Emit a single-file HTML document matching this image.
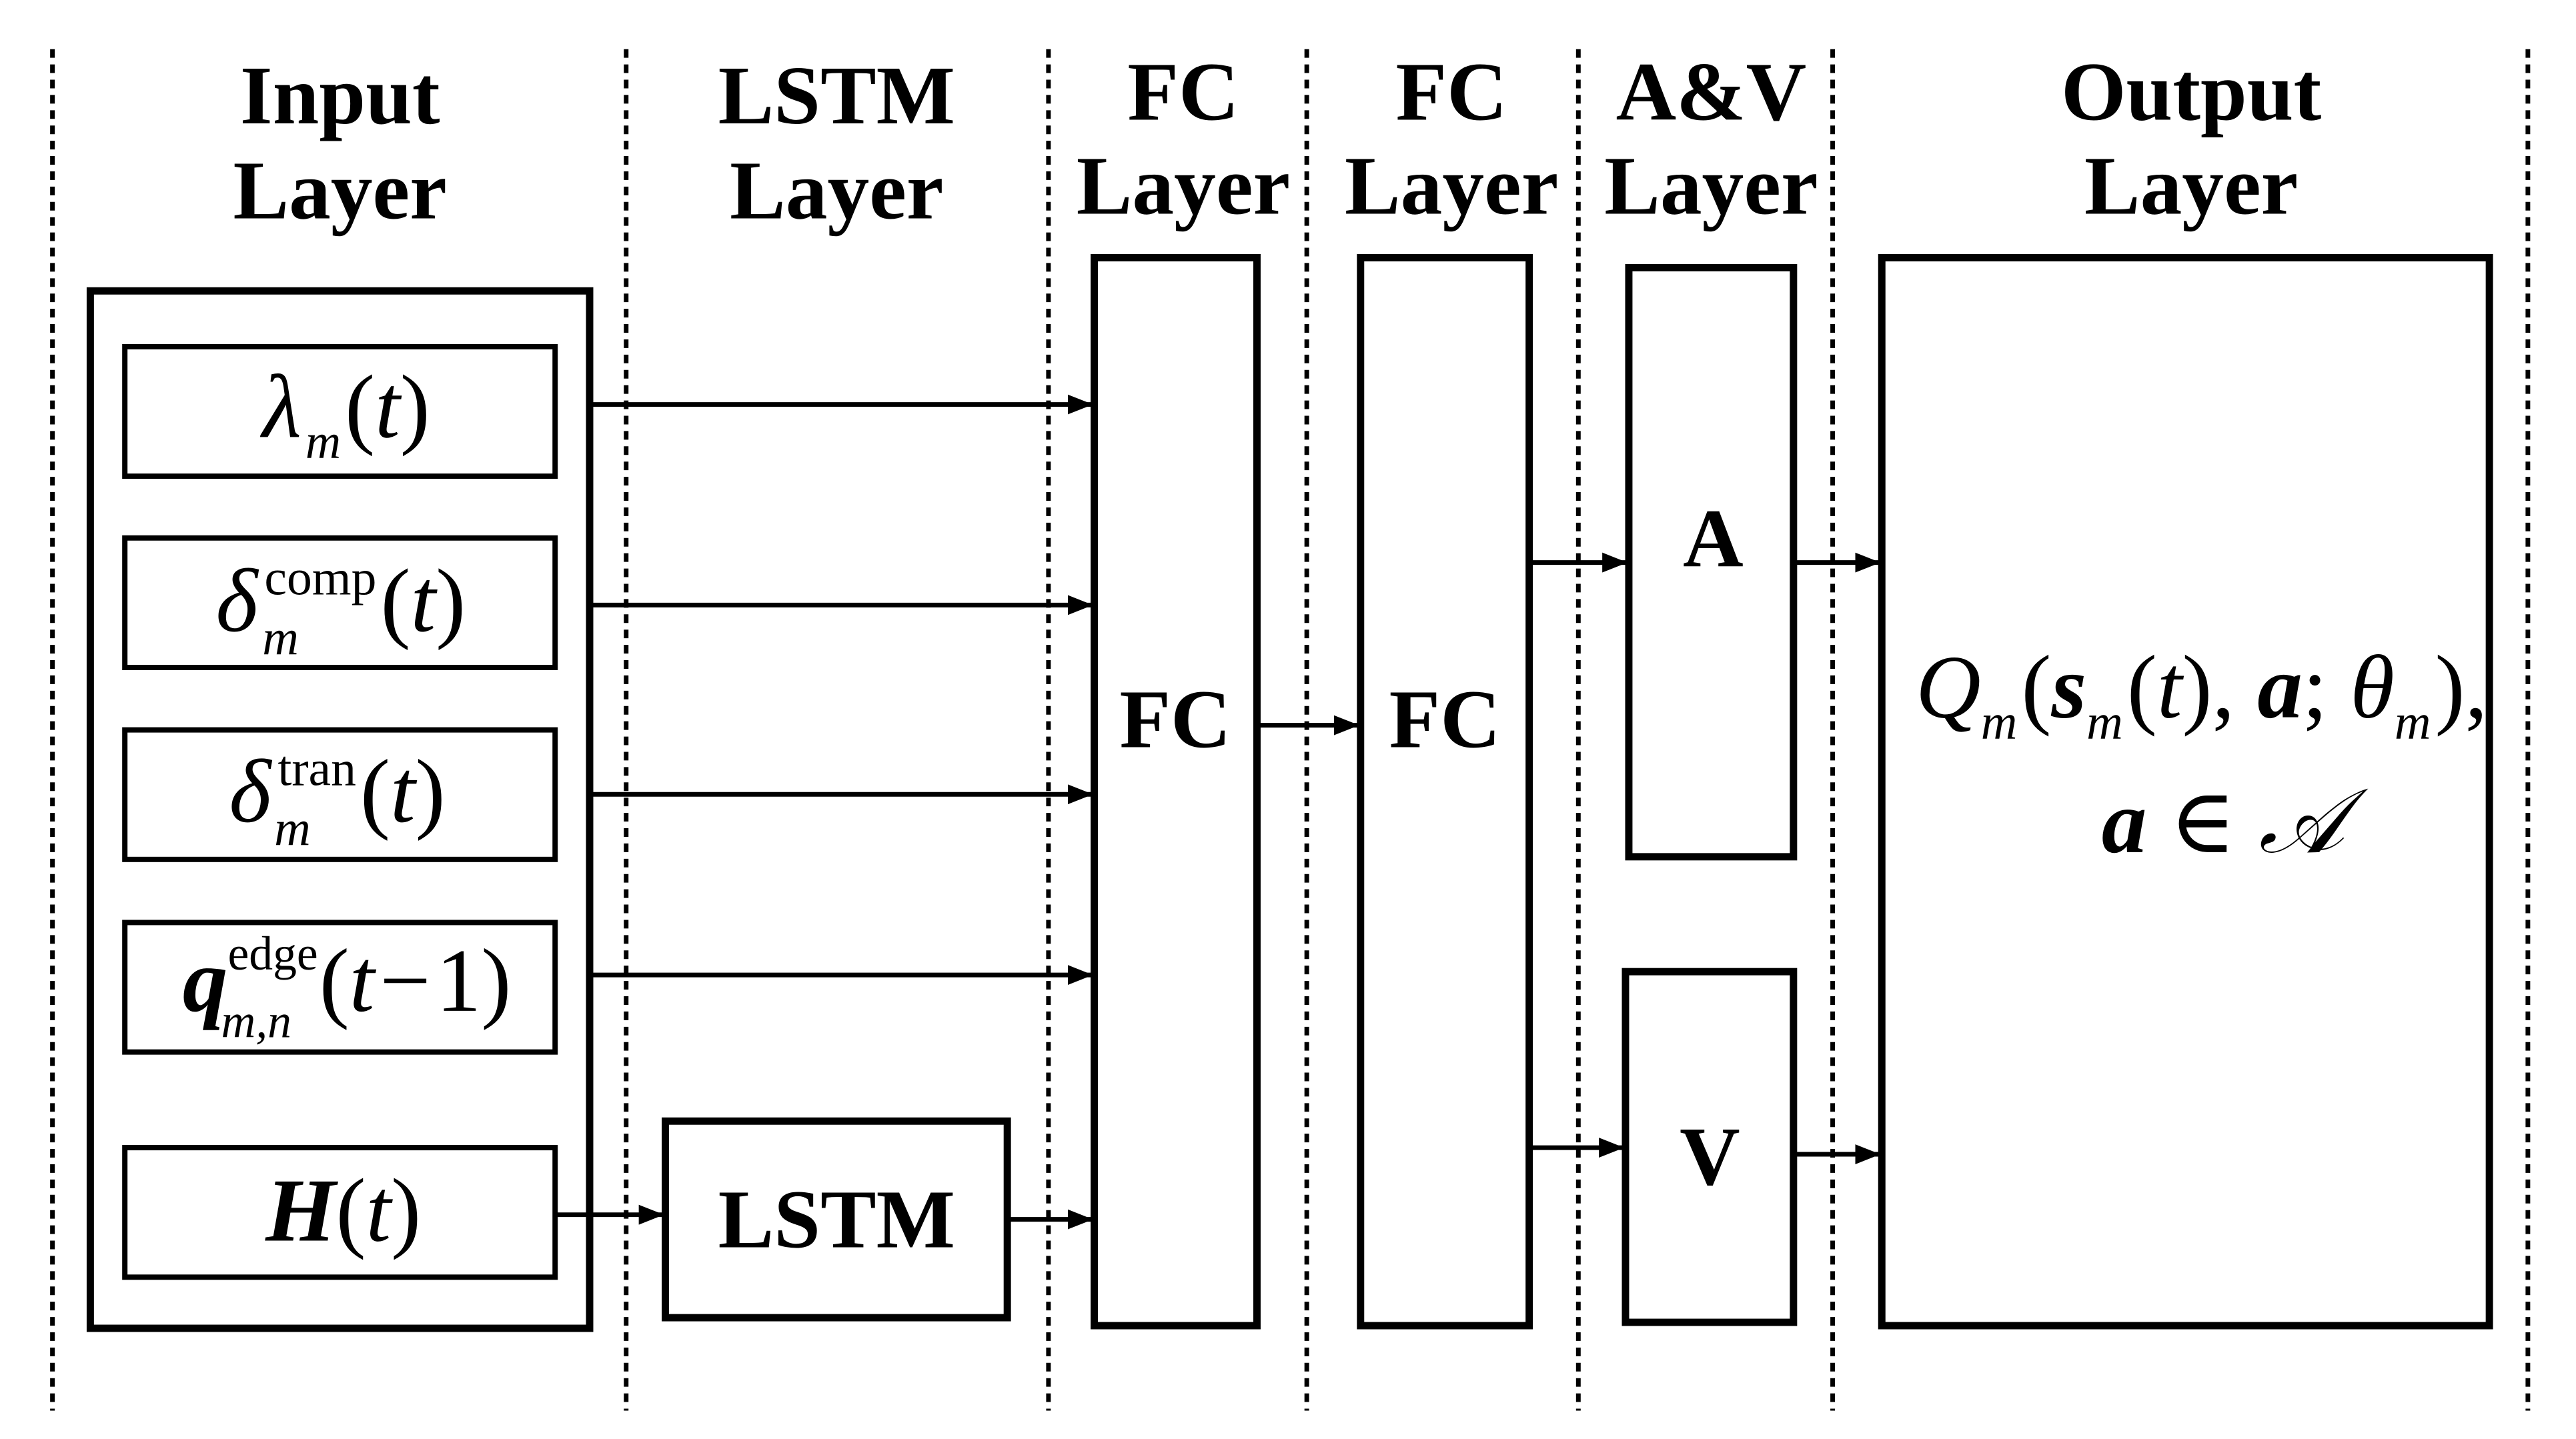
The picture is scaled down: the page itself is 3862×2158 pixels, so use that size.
<!DOCTYPE html>
<html><head><meta charset="utf-8"><style>
html,body{margin:0;padding:0;background:#fff;}
svg{display:block;}
text{font-family:"Liberation Serif","DejaVu Serif",serif;fill:#000;}
.h{font-weight:bold;font-size:126px;text-anchor:middle;}
.m{font-style:italic;font-size:136px;}
</style></head><body>
<svg width="3862" height="2158" viewBox="0 0 3862 2158" xmlns="http://www.w3.org/2000/svg">
<defs>
<marker id="b" viewBox="0 0 10 10" refX="10" refY="5" markerWidth="38" markerHeight="30" markerUnits="userSpaceOnUse" orient="auto" preserveAspectRatio="none"><path d="M0,0 L10,5 L0,10 z"/></marker></defs>
<g transform="scale(0.9955 0.996)">
<g stroke="#000" stroke-width="7" stroke-dasharray="13 10">
<line x1="79" y1="74" x2="79" y2="2124"/><line x1="943" y1="74" x2="943" y2="2124"/><line x1="1579" y1="74" x2="1579" y2="2124"/><line x1="1968" y1="74" x2="1968" y2="2124"/><line x1="2377" y1="74" x2="2377" y2="2124"/><line x1="2760" y1="74" x2="2760" y2="2124"/><line x1="3807" y1="74" x2="3807" y2="2124"/>
</g>
<text class="h" x="512" y="186">Input</text><text class="h" x="512" y="329">Layer</text>
<text class="h" x="1260" y="186">LSTM</text><text class="h" x="1260" y="329">Layer</text>
<text class="h" x="1782" y="180">FC</text><text class="h" x="1782" y="322">Layer</text>
<text class="h" x="2186" y="180">FC</text><text class="h" x="2186" y="322">Layer</text>
<text class="h" x="2577" y="180">A&amp;V</text><text class="h" x="2577" y="322">Layer</text>
<text class="h" x="3300" y="180">Output</text><text class="h" x="3300" y="322">Layer</text>
<g fill="none" stroke="#000">
<rect x="136" y="438" width="752" height="1562" stroke-width="11"/>
<rect x="188" y="522" width="648" height="195" stroke-width="8"/>
<rect x="188" y="810" width="648" height="195" stroke-width="8"/>
<rect x="188" y="1099" width="648" height="195" stroke-width="8"/>
<rect x="188" y="1389" width="648" height="195" stroke-width="8"/>
<rect x="188" y="1728" width="648" height="195" stroke-width="8"/>
<rect x="1002" y="1688" width="515" height="296" stroke-width="11"/>
<rect x="1648" y="388" width="245" height="1608" stroke-width="11"/>
<rect x="2049" y="388" width="254" height="1608" stroke-width="11"/>
<rect x="2453" y="403" width="248" height="887" stroke-width="11"/>
<rect x="2448" y="1463" width="253" height="528" stroke-width="11"/>
<rect x="2834" y="388" width="915" height="1608" stroke-width="11"/>
</g>
<g stroke="#000" stroke-width="7" marker-end="url(#b)">
<line x1="890" y1="609" x2="1646" y2="609"/>
<line x1="890" y1="911" x2="1646" y2="911"/>
<line x1="890" y1="1196" x2="1646" y2="1196"/>
<line x1="890" y1="1468" x2="1646" y2="1468"/>
<line x1="838" y1="1829" x2="1000" y2="1829"/>
<line x1="1520" y1="1836" x2="1646" y2="1836"/>
<line x1="1896" y1="1092" x2="2047" y2="1092"/>
<line x1="2306" y1="847" x2="2451" y2="847"/>
<line x1="2704" y1="847" x2="2832" y2="847"/>
<line x1="2306" y1="1728" x2="2446" y2="1728"/>
<line x1="2704" y1="1738" x2="2832" y2="1738"/>
</g>
<text class="h" x="1770" y="1125">FC</text>
<text class="h" x="2176" y="1125">FC</text>
<text class="h" x="1260" y="1878">LSTM</text>
<text class="h" x="2580" y="853">A</text>
<text class="h" x="2575" y="1783">V</text>
<text class="m" x="395" y="658">λ<tspan font-size="74" dx="6" dy="32">m</tspan><tspan dy="-32" dx="6" font-style="normal">(</tspan>t<tspan font-style="normal">)</tspan></text>
<text class="m" x="325" y="950">δ<tspan font-size="76" font-style="normal" dx="10" dy="-55">comp</tspan><tspan font-style="normal" dy="55" dx="6">(</tspan>t<tspan font-style="normal">)</tspan></text>
<text font-size="76" font-style="italic" x="395" y="985">m</text>
<text class="m" x="345" y="1237">δ<tspan font-size="76" font-style="normal" dx="10" dy="-55">tran</tspan><tspan font-style="normal" dy="55" dx="6">(</tspan>t<tspan font-style="normal">)</tspan></text>
<text font-size="76" font-style="italic" x="413" y="1272">m</text>
<text class="m" x="275" y="1522" font-size="128"><tspan font-weight="bold">q</tspan><tspan font-size="72" font-style="normal" dy="-62">edge</tspan><tspan font-style="normal" dy="62" dx="2">(</tspan>t<tspan font-style="normal" dx="8">−</tspan><tspan font-style="normal" dx="8">1)</tspan></text>
<text font-size="72" font-style="italic" x="333" y="1562">m,n</text>
<text class="m" x="400" y="1868"><tspan font-weight="bold">H</tspan><tspan font-style="normal">(</tspan>t<tspan font-style="normal">)</tspan></text>
<text class="m" x="2885" y="1080" font-size="132">Q<tspan font-size="76" dy="32">m</tspan><tspan dy="-32" dx="6" font-style="normal">(</tspan><tspan font-weight="bold">s</tspan><tspan font-size="76" dy="32">m</tspan><tspan dy="-32" dx="6" font-style="normal">(</tspan>t<tspan font-style="normal">), </tspan><tspan font-weight="bold">a</tspan><tspan font-style="normal">; </tspan>θ<tspan font-size="76" dy="32">m</tspan><tspan dy="-32" dx="6" font-style="normal">),</tspan></text>
<text class="m" x="3165" y="1283"><tspan font-weight="bold">a</tspan><tspan font-style="normal"> ∈ </tspan>𝒜</text>
</g>
</svg>
</body></html>
